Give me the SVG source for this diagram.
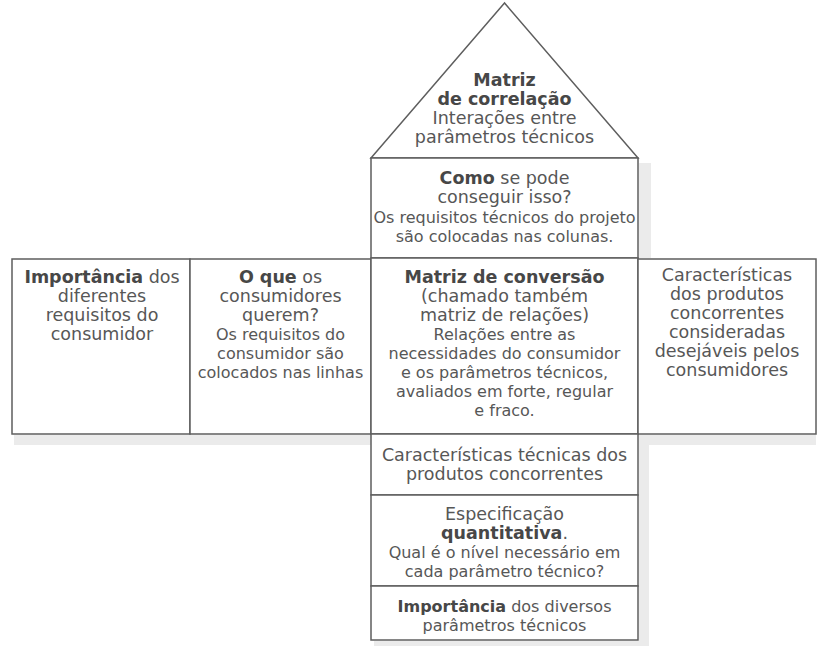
<svg xmlns="http://www.w3.org/2000/svg" width="818" height="662" viewBox="0 0 818 662">
<style>
.box{fill:#ffffff;stroke:#5e5e5e;stroke-width:1.5}
.sh{fill:#ebebeb}
text{font-family:"DejaVu Sans","Liberation Sans",sans-serif;fill:#575757;text-anchor:middle}
.L{font-size:17.5px}
.S{font-size:16px}
.b{font-weight:bold;fill:#474747}
</style>
<rect width="818" height="662" fill="#ffffff"/>
<g id="shadows">
<rect class="sh" x="639" y="163" width="12" height="95"/>
<rect class="sh" x="14" y="435" width="357" height="10"/>
<rect class="sh" x="639" y="435" width="177" height="10"/>
<rect class="sh" x="639" y="435" width="10" height="211"/>
<rect class="sh" x="374" y="641" width="275" height="5"/>
</g>
<g id="roof">
<polygon class="box" points="504.5,3 371,158 638,158"/>
<text class="L b" x="504.5" y="86">Matriz</text>
<text class="L b" x="504.5" y="105">de correlação</text>
<text class="L" x="504.5" y="124">Interações entre</text>
<text class="L" x="504.5" y="143">parâmetros técnicos</text>
</g>
<g id="como">
<rect class="box" x="371" y="158" width="267" height="100"/>
<text class="L" x="504.5" y="184"><tspan class="b">Como</tspan> se pode</text>
<text class="L" x="504.5" y="203">conseguir isso?</text>
<text class="S" x="504.5" y="223">Os requisitos técnicos do projeto</text>
<text class="S" x="504.5" y="242">são colocadas nas colunas.</text>
</g>
<g id="importancia-consumidor">
<rect class="box" x="12" y="259" width="178" height="175"/>
<text class="L" x="102" y="283"><tspan class="b">Importância</tspan> dos</text>
<text class="L" x="102" y="302">diferentes</text>
<text class="L" x="102" y="321">requisitos do</text>
<text class="L" x="102" y="340">consumidor</text>
</g>
<g id="oque">
<rect class="box" x="190" y="259" width="181" height="175"/>
<text class="L" x="280.5" y="283"><tspan class="b">O que</tspan> os</text>
<text class="L" x="280.5" y="302">consumidores</text>
<text class="L" x="280.5" y="321">querem?</text>
<text class="S" x="280.5" y="340">Os requisitos do</text>
<text class="S" x="280.5" y="359">consumidor são</text>
<text class="S" x="280.5" y="378">colocados nas linhas</text>
</g>
<g id="matriz-conversao">
<rect class="box" x="371" y="258" width="267" height="176"/>
<text class="L b" x="504.5" y="283">Matriz de conversão</text>
<text class="L" x="504.5" y="302">(chamado também</text>
<text class="L" x="504.5" y="321">matriz de relações)</text>
<text class="S" x="504.5" y="340">Relações entre as</text>
<text class="S" x="504.5" y="359">necessidades do consumidor</text>
<text class="S" x="504.5" y="378">e os parâmetros técnicos,</text>
<text class="S" x="504.5" y="397">avaliados em forte, regular</text>
<text class="S" x="504.5" y="416">e fraco.</text>
</g>
<g id="concorrentes">
<rect class="box" x="638" y="259" width="178" height="175"/>
<text class="L" x="727" y="281">Características</text>
<text class="L" x="727" y="300">dos produtos</text>
<text class="L" x="727" y="319">concorrentes</text>
<text class="L" x="727" y="338">consideradas</text>
<text class="L" x="727" y="357">desejáveis pelos</text>
<text class="L" x="727" y="376">consumidores</text>
</g>
<g id="caracteristicas-tecnicas">
<rect class="box" x="371" y="434" width="267" height="61"/>
<text class="L" x="504.5" y="461">Características técnicas dos</text>
<text class="L" x="504.5" y="480">produtos concorrentes</text>
</g>
<g id="especificacao">
<rect class="box" x="371" y="495" width="267" height="91"/>
<text class="L" x="504.5" y="520">Especificação</text>
<text class="L" x="504.5" y="539"><tspan class="b">quantitativa</tspan>.</text>
<text class="S" x="504.5" y="558">Qual é o nível necessário em</text>
<text class="S" x="504.5" y="577">cada parâmetro técnico?</text>
</g>
<g id="importancia-parametros">
<rect class="box" x="371" y="586" width="267" height="54"/>
<text class="S" x="504.5" y="612"><tspan class="b">Importância</tspan> dos diversos</text>
<text class="S" x="504.5" y="631">parâmetros técnicos</text>
</g>
<g id="connectors"/>
</svg>
